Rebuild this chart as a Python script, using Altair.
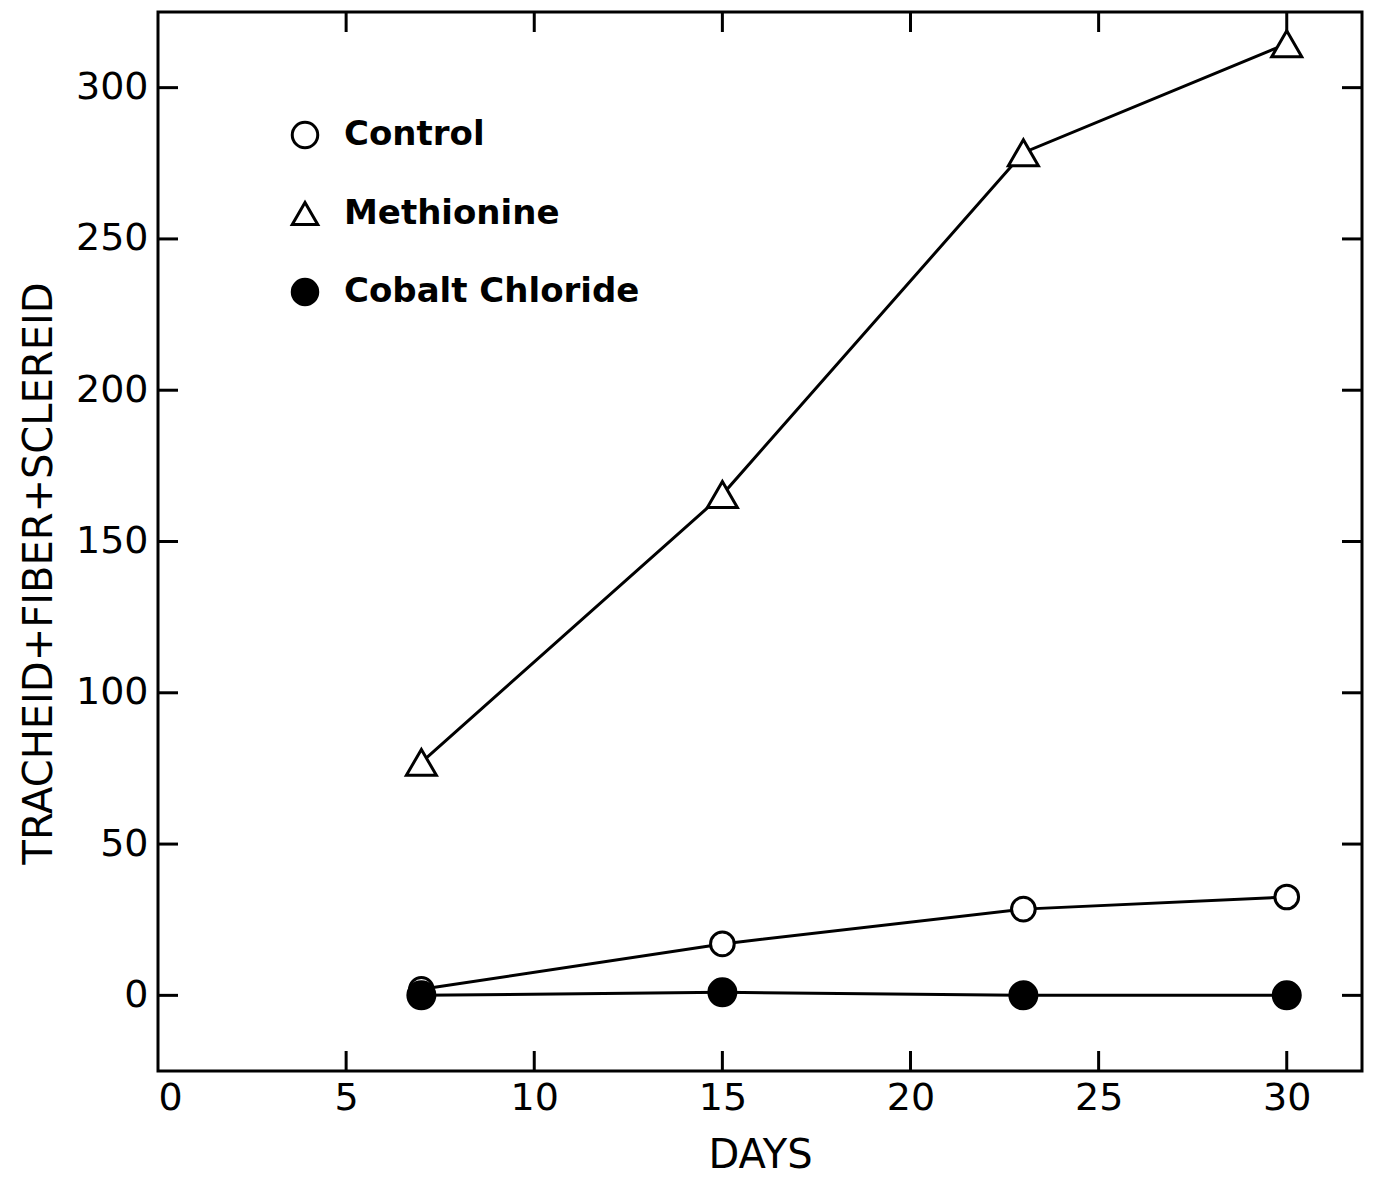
import altair as alt
import pandas as pd

days = [7, 15, 23, 30]
control = [2, 17, 28.5, 32.5]
methionine = [77, 165.5, 278.5, 314.5]
cobalt = [0, 1, 0, 0]
series_names = ["Control", "Methionine", "Cobalt Chloride"]
x_ticks = [0, 5, 10, 15, 20, 25, 30]
y_ticks = [0, 50, 100, 150, 200, 250, 300]

rows = []
for name, vals in zip(series_names, [control, methionine, cobalt]):
    for d, v in zip(days, vals):
        rows.append({"day": d, "value": v, "series": name})
df = pd.DataFrame(rows)
xt = pd.DataFrame({"day": x_ticks[1:]})
yt = pd.DataFrame({"value": y_ticks})

W, H = 1204, 1059
TL = 20  # inward tick length
FONT = "DejaVu Sans"
xscale = alt.Scale(domain=[0, 32], nice=False, zero=False)
yscale = alt.Scale(domain=[-25, 325], nice=False, zero=False)

base = alt.Chart(df)

lines = base.mark_line(color="black", strokeWidth=3).encode(
    x=alt.X("day:Q", scale=xscale,
            axis=alt.Axis(orient="bottom", values=x_ticks, ticks=False, domain=False,
                          grid=False, title="DAYS", labelFontSize=38, labelFont=FONT,
                          labelColor="black", labelPadding=8, titleFontSize=40,
                          titleFont=FONT, titleFontWeight="normal", titleColor="black",
                          titlePadding=18)),
    y=alt.Y("value:Q", scale=yscale,
            axis=alt.Axis(orient="left", values=y_ticks, ticks=False, domain=False,
                          grid=False, title="TRACHEID+FIBER+SCLEREID", labelFontSize=38,
                          labelFont=FONT, labelColor="black", labelPadding=10,
                          titleFontSize=40, titleFont=FONT, titleFontWeight="normal",
                          titleColor="black", titlePadding=16, titleY=561)),
    detail="series:N",
)

shape_enc = alt.Shape("series:N",
                      scale=alt.Scale(domain=series_names,
                                      range=["circle", "triangle-up", "circle"]),
                      legend=alt.Legend(orient="top-left", offset=106, symbolOffset=24,
                                        title=None, labelFontSize=34, labelFont=FONT,
                                        labelFontWeight="bold", labelColor="black",
                                        labelLimit=500, symbolSize=650,
                                        symbolStrokeWidth=3, symbolStrokeColor="black",
                                        labelOffset=22, rowPadding=41.5, padding=0))
fill_enc = alt.Fill("series:N",
                    scale=alt.Scale(domain=series_names, range=["white", "white", "black"]))
stroke_enc = alt.Stroke("series:N",
                        scale=alt.Scale(domain=series_names, range=["black", "black", "black"]))


def point_layer(names, size):
    return base.transform_filter(
        alt.FieldOneOfPredicate(field="series", oneOf=names)
    ).mark_point(filled=False, strokeWidth=3, opacity=1, fillOpacity=1,
                 strokeOpacity=1, size=size).encode(
        x="day:Q", y="value:Q", shape=shape_enc, fill=fill_enc, stroke=stroke_enc)


p_control = point_layer(["Control"], 560)
p_meth = point_layer(["Methionine"], 900)
p_cobalt = point_layer(["Cobalt Chloride"], 730)

rule_style = dict(color="black", strokeWidth=3)
top_ticks = alt.Chart(xt).mark_rule(**rule_style).encode(
    x="day:Q", y=alt.value(0), y2=alt.value(TL))
bottom_ticks = alt.Chart(xt).mark_rule(**rule_style).encode(
    x="day:Q", y=alt.value(H - TL), y2=alt.value(H))
left_ticks = alt.Chart(yt).mark_rule(**rule_style).encode(
    y="value:Q", x=alt.value(0), x2=alt.value(TL))
right_ticks = alt.Chart(yt).mark_rule(**rule_style).encode(
    y="value:Q", x=alt.value(W - TL), x2=alt.value(W))

chart = (
    alt.layer(lines, top_ticks, bottom_ticks, left_ticks, right_ticks,
              p_control, p_meth, p_cobalt)
    .properties(width=W, height=H, padding={"left": 11, "top": 2, "right": 5, "bottom": 5})
    .configure_view(stroke="black", strokeWidth=3)
)

chart.save("out.html", embed_options={"renderer": "svg", "actions": False})
